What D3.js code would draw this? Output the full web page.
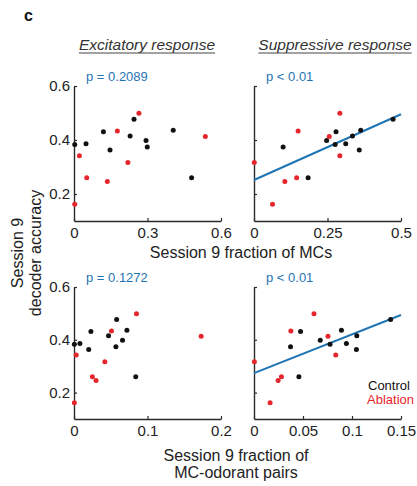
<!DOCTYPE html>
<html>
<head>
<meta charset="utf-8">
<script src="https://cdn.jsdelivr.net/npm/d3@7"></script>
<style>
  body { margin: 0; background: #fff; }
  svg text { font-family: "Liberation Sans", Arial, sans-serif; }
</style>
</head>
<body>
<div id="chart"></div>
<script>
// decoder accuracy (shared by all four panels)
const controlAcc = [0.260, 0.363, 0.374, 0.383, 0.386, 0.398, 0.415, 0.431, 0.436, 0.477];
const ablationAcc = [0.162, 0.246, 0.260, 0.317, 0.342, 0.413, 0.433, 0.499];

// fraction of MCs
const controlExcMC = [0.48, 0.147, 0.299, 0.003, 0.049, 0.294, 0.229, 0.12, 0.405, 0.245];
const ablationExcMC = [0.003, 0.136, 0.052, 0.220, 0.022, 0.536, 0.177, 0.265];
const controlSupMC = [0.184, 0.358, 0.099, 0.276, 0.312, 0.247, 0.335, 0.279, 0.363, 0.473];
const ablationSupMC = [0.063, 0.105, 0.145, 0.001, 0.292, 0.256, 0.150, 0.292];

// fraction of MC-odorant pairs
const controlExcPair = [0.084, 0.020, 0.057, 0.0005, 0.008, 0.066, 0.047, 0.023, 0.072, 0.058];
const ablationExcPair = [0.0005, 0.030, 0.025, 0.042, 0.003, 0.173, 0.051, 0.085];
const controlSupPair = [0.0458, 0.1045, 0.0373, 0.0776, 0.0943, 0.0676, 0.1049, 0.0475, 0.0892, 0.1394];
const ablationSupPair = [0.0164, 0.0246, 0.028, 0.0004, 0.0834, 0.0755, 0.0376, 0.0612];

const xDomains = [[0, 0.6], [0, 0.5], [0, 0.2], [0, 0.15]];
const xTicks = [[0, 0.3, 0.6], [0, 0.25, 0.5], [0, 0.1, 0.2], [0, 0.05, 0.1, 0.15]];
const xTickLabels = [['0', '0.3', '0.6'], ['0', '0.25', '0.5'], ['0', '0.1', '0.2'], ['0', '0.05', '0.1', '0.15']];
const yTicks = [0.2, 0.4, 0.6];
const pValues = ['p = 0.2089', 'p < 0.01', 'p = 0.1272', 'p < 0.01'];
const showFit = [false, true, false, true];

const width = 417, height = 486;
const blue = '#1f74b4', red = '#e5262c', black = '#111', axisColor = '#2a2a2a';

const svg = d3.select('#chart').append('svg')
  .attr('width', width).attr('height', height);

const panels = [
  { cx: controlExcMC, ax: ablationExcMC, x: [74, 221], y: [221, 86] },
  { cx: controlSupMC, ax: ablationSupMC, x: [254, 401], y: [221, 86] },
  { cx: controlExcPair, ax: ablationExcPair, x: [74, 221], y: [419, 287] },
  { cx: controlSupPair, ax: ablationSupPair, x: [254, 401], y: [419, 287] }
];

panels.forEach((p, i) => {
  const xScale = d3.scaleLinear().domain(xDomains[i]).range(p.x);
  const yScale = d3.scaleLinear().domain([0.1, 0.6]).range(p.y);
  const g = svg.append('g');

  const xAxis = d3.axisBottom(xScale)
    .tickValues(xTicks[i])
    .tickFormat((d, j) => xTickLabels[i][j])
    .tickSizeInner(-3).tickSizeOuter(0).tickPadding(6);
  const yAxis = d3.axisLeft(yScale)
    .tickValues(yTicks)
    .tickFormat(i % 2 === 0 ? d3.format('.1f') : () => '')
    .tickSizeInner(-3).tickSizeOuter(0).tickPadding(4);

  const xAxisG = g.append('g').attr('transform', `translate(0,${p.y[0]})`).call(xAxis);
  const yAxisG = g.append('g').attr('transform', `translate(${p.x[0]},0)`).call(yAxis);
  [xAxisG, yAxisG].forEach(a => {
    a.select('.domain').attr('stroke', axisColor).attr('stroke-width', 1.4);
    a.selectAll('.tick line').attr('stroke', axisColor).attr('stroke-width', 1.2);
    a.selectAll('.tick text').attr('fill', '#222').attr('font-size', 15);
  });

  if (showFit[i]) {
    const xs = p.cx.concat(p.ax);
    const ys = controlAcc.concat(ablationAcc);
    const mx = d3.mean(xs), my = d3.mean(ys);
    const slope = d3.sum(xs, (x, k) => (x - mx) * (ys[k] - my)) / d3.sum(xs, x => (x - mx) * (x - mx));
    const icpt = my - slope * mx;
    g.append('line')
      .attr('x1', xScale(xDomains[i][0])).attr('y1', yScale(icpt + slope * xDomains[i][0]))
      .attr('x2', xScale(xDomains[i][1])).attr('y2', yScale(icpt + slope * xDomains[i][1]))
      .attr('stroke', blue).attr('stroke-width', 2);
  }

  g.selectAll('circle.control').data(p.cx).enter().append('circle')
    .attr('class', 'control')
    .attr('cx', d => xScale(d))
    .attr('cy', (d, k) => yScale(controlAcc[k]))
    .attr('r', 2.5).attr('fill', black);
  g.selectAll('circle.ablation').data(p.ax).enter().append('circle')
    .attr('class', 'ablation')
    .attr('cx', d => xScale(d))
    .attr('cy', (d, k) => yScale(ablationAcc[k]))
    .attr('r', 2.5).attr('fill', red);

  g.append('text')
    .attr('x', p.x[0] + 12).attr('y', p.y[1] - 5)
    .attr('fill', blue).attr('font-size', 13)
    .text(pValues[i]);
});

// panel letter
svg.append('text').attr('x', 24).attr('y', 21)
  .attr('font-size', 16).attr('font-weight', 'bold').attr('fill', '#111').text('c');

// column titles, italic and underlined
[['Excitatory response', 147], ['Suppressive response', 335]].forEach(([t, x]) => {
  const txt = svg.append('text').attr('x', x).attr('y', 50)
    .attr('text-anchor', 'middle').attr('font-size', 15.5)
    .attr('font-style', 'italic').attr('fill', '#333').text(t);
  const w = txt.node().getComputedTextLength();
  svg.append('line')
    .attr('x1', x - w / 2).attr('x2', x + w / 2)
    .attr('y1', 53).attr('y2', 53)
    .attr('stroke', '#444').attr('stroke-width', 1);
});

// axis labels
svg.append('text').attr('x', 241).attr('y', 258).attr('text-anchor', 'middle')
  .attr('font-size', 16).attr('fill', '#222').text('Session 9 fraction of MCs');
svg.append('text').attr('x', 236).attr('y', 461).attr('text-anchor', 'middle')
  .attr('font-size', 16).attr('fill', '#222').text('Session 9 fraction of');
svg.append('text').attr('x', 236).attr('y', 478).attr('text-anchor', 'middle')
  .attr('font-size', 16).attr('fill', '#222').text('MC-odorant pairs');

svg.append('text').attr('transform', 'translate(23,253) rotate(-90)')
  .attr('text-anchor', 'middle').attr('font-size', 16).attr('fill', '#222').text('Session 9');
svg.append('text').attr('transform', 'translate(41,253) rotate(-90)')
  .attr('text-anchor', 'middle').attr('font-size', 16).attr('fill', '#222').text('decoder accuracy');

// legend
svg.append('text').attr('x', 368).attr('y', 390).attr('font-size', 13).attr('fill', '#111').text('Control');
svg.append('text').attr('x', 367).attr('y', 404).attr('font-size', 13).attr('fill', red).text('Ablation');
</script>
</body>
</html>
